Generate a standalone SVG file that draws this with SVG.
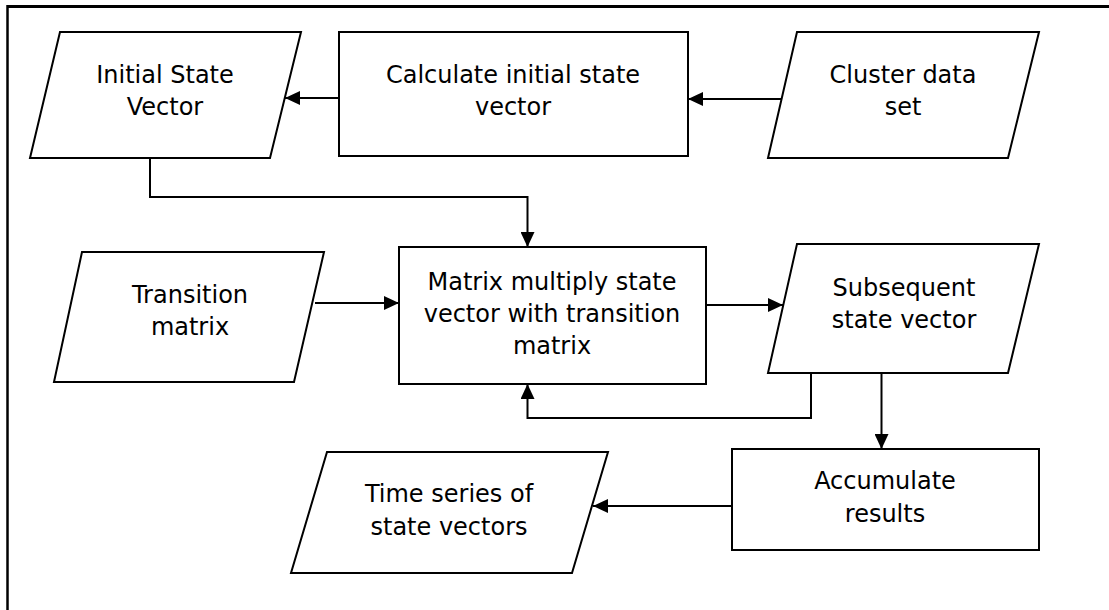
<svg xmlns="http://www.w3.org/2000/svg" width="1109" height="610" viewBox="0 0 1109 610">
<style>
.shape{fill:#fff;stroke:#000;stroke-width:2}
.lbl{font-family:"DejaVu Sans",sans-serif;font-size:24px;fill:#000;text-anchor:middle}
.conn{fill:none;stroke:#000;stroke-width:2}
</style>
<defs>
<marker id="arr" markerUnits="userSpaceOnUse" markerWidth="16" markerHeight="14" viewBox="0 0 16 14" refX="15" refY="7" orient="auto">
<path d="M0,0 L15,7 L0,14 Z" fill="#000"/>
</marker>
</defs>
<rect width="1109" height="610" fill="#fff"/>
<g id="frame">
<line x1="7" y1="6.5" x2="1109" y2="6.5" stroke="#000" stroke-width="3"/>
<line x1="7.5" y1="5" x2="7.5" y2="610" stroke="#000" stroke-width="2.5"/>
</g>
<g id="initial-state-vector">
<polygon class="shape" points="60,32 301,32 270,158 30,158"/>
<text class="lbl" x="165" y="83">Initial State</text>
<text class="lbl" x="165" y="115">Vector</text>
</g>
<g id="calculate-initial">
<rect class="shape" x="339" y="32" width="349" height="124"/>
<text class="lbl" x="513" y="83">Calculate initial state</text>
<text class="lbl" x="513" y="115">vector</text>
</g>
<g id="cluster-data-set">
<polygon class="shape" points="797,32 1039,32 1008,158 768,158"/>
<text class="lbl" x="903" y="83">Cluster data</text>
<text class="lbl" x="903" y="115">set</text>
</g>
<g id="transition-matrix">
<polygon class="shape" points="82,252 324,252 294,382 54,382"/>
<text class="lbl" x="190" y="303">Transition</text>
<text class="lbl" x="190" y="335">matrix</text>
</g>
<g id="matrix-multiply">
<rect class="shape" x="399" y="247" width="307" height="137"/>
<text class="lbl" x="552" y="290">Matrix multiply state</text>
<text class="lbl" x="552" y="322">vector with transition</text>
<text class="lbl" x="552" y="354">matrix</text>
</g>
<g id="subsequent-state-vector">
<polygon class="shape" points="797,244 1039,244 1008,373 768,373"/>
<text class="lbl" x="904" y="296">Subsequent</text>
<text class="lbl" x="904" y="328">state vector</text>
</g>
<g id="accumulate-results">
<rect class="shape" x="732" y="449" width="307" height="101"/>
<text class="lbl" x="885" y="489">Accumulate</text>
<text class="lbl" x="885" y="522">results</text>
</g>
<g id="time-series">
<polygon class="shape" points="327,452 608,452 572,573 291,573"/>
<text class="lbl" x="449" y="502">Time series of</text>
<text class="lbl" x="449" y="535">state vectors</text>
</g>
<g id="connectors">
<line class="conn" x1="782" y1="99" x2="688" y2="99" marker-end="url(#arr)"/>
<line class="conn" x1="339" y1="98" x2="285" y2="98" marker-end="url(#arr)"/>
<polyline class="conn" points="150,158 150,197 527.5,197 527.5,247" marker-end="url(#arr)"/>
<line class="conn" x1="315" y1="303" x2="399" y2="303" marker-end="url(#arr)"/>
<line class="conn" x1="706" y1="305" x2="783" y2="305" marker-end="url(#arr)"/>
<polyline class="conn" points="811,373 811,418 527.5,418 527.5,384" marker-end="url(#arr)"/>
<line class="conn" x1="881.5" y1="373" x2="881.5" y2="449" marker-end="url(#arr)"/>
<line class="conn" x1="732" y1="506" x2="593" y2="506" marker-end="url(#arr)"/>
</g>
</svg>
